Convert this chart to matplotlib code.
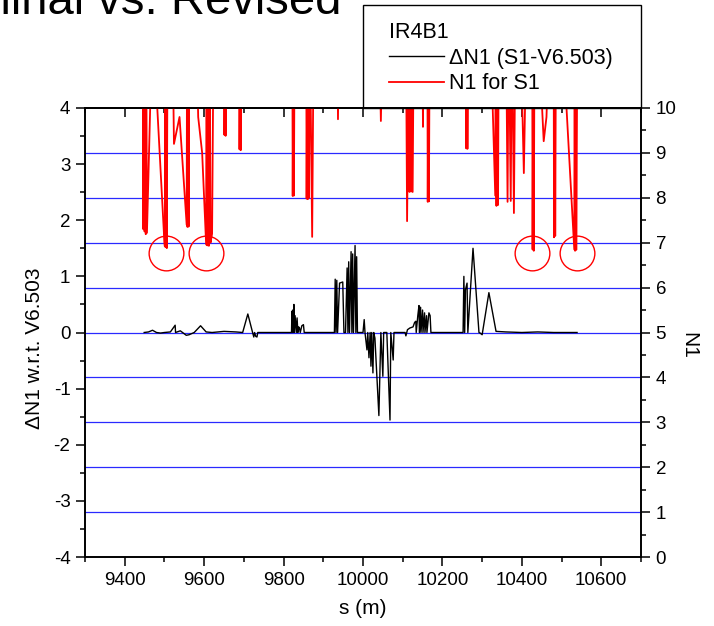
import matplotlib.pyplot as plt
from matplotlib.ticker import MultipleLocator, NullFormatter
from matplotlib.patches import Rectangle

plt.rcParams['font.family'] = ['Liberation Sans', 'DejaVu Sans']
plt.rcParams['axes.unicode_minus'] = False

# dN1 (S1 - V6.503), left axis
dn_s = [9449, 9460, 9470, 9480, 9490, 9500, 9515, 9527, 9528, 9540, 9555, 9562,
        9575, 9591, 9605, 9620, 9650, 9680, 9697, 9710, 9722, 9725, 9727, 9730,
        9733, 9735, 9820, 9821, 9822, 9823, 9824, 9826, 9827, 9829, 9832, 9834,
        9836, 9838, 9840, 9842, 9846, 9850, 9852, 9928, 9930, 9932, 9934, 9936,
        9941, 9949, 9952, 9956, 9960, 9962, 9964, 9966, 9970, 9972, 9974, 9976,
        9980, 9982, 9984, 9986, 10000, 10003, 10005, 10010, 10012, 10015, 10018,
        10020, 10022, 10025, 10027, 10030, 10040, 10045, 10050, 10052, 10060,
        10068, 10070, 10076, 10078, 10106, 10108, 10112, 10118, 10126, 10130,
        10133, 10134, 10138, 10141, 10142, 10145, 10146, 10150, 10151, 10155,
        10156, 10160, 10161, 10166, 10169, 10171, 10252, 10254, 10256, 10258,
        10262, 10264, 10277, 10292, 10295, 10300, 10317, 10335, 10360, 10400,
        10440, 10480, 10539]
dn_v = [0.0, 0.01, 0.04, 0.0, -0.01, 0.0, 0.01, 0.13, 0.0, 0.03, -0.05, -0.04,
        0.0, 0.12, 0.01, 0.0, 0.02, 0.01, 0.0, 0.33, 0.0, -0.08, 0.0, -0.07,
        -0.08, 0.0, 0.0, 0.38, 0.0, 0.4, 0.0, 0.5, 0.0, 0.3, 0.0, 0.26,
        0.0, 0.1, 0.08, 0.0, 0.12, 0.14, 0.0, 0.0, 0.95, 0.0, 0.93, 0.0,
        0.88, 0.9, 0.0, 0.0, 1.15, 0.0, 1.26, 0.0, 1.44, 0.0, 1.4, 0.0,
        1.55, 0.0, 1.35, 0.0, 0.0, 0.23, 0.0, -0.31, 0.0, -0.45, 0.0,
        -0.6, 0.0, -0.72, 0.0, -0.1, -1.48, 0.0, -0.78, 0.0, 0.0,
        -1.56, 0.0, -0.49, 0.0, 0.0, -0.06, 0.05, 0.08, 0.1, 0.18,
        0.2, 0.0, 0.3, 0.48, 0.0, 0.45, 0.0, 0.4, 0.0, 0.35,
        0.0, 0.3, 0.0, 0.35, 0.3, 0.0, 0.0, 1.0, 0.0, 0.76,
        0.88, 0.0, 1.5, 0.0, -0.01, -0.04, 0.71, 0.02, 0.01, 0.0,
        0.01, 0.0, 0.0]

# N1 for S1, right axis (values above 10 run off the top)
n1_s = [9446, 9447, 9448, 9450, 9451, 9453, 9454, 9456, 9470, 9500, 9501, 9502, 9503,
        9505, 9506, 9508, 9520, 9524, 9538, 9556, 9557, 9558, 9560, 9561, 9563,
        9580, 9585, 9595, 9605, 9606, 9608, 9610, 9612, 9614, 9616, 9620, 9624,
        9650, 9651, 9653, 9654, 9656, 9688, 9689, 9691, 9692, 9694,
        9822, 9823, 9825, 9826, 9828, 9857, 9858, 9860, 9861, 9863, 9864, 9866,
        9872, 9876, 9935, 9937, 9940, 10040, 10045, 10050, 10108, 10111, 10116,
        10117, 10119, 10121, 10123, 10125, 10128, 10149, 10151, 10153, 10162,
        10163, 10165, 10166, 10168, 10259, 10260, 10262, 10263, 10265,
        10320, 10333, 10334, 10336, 10338, 10340, 10342, 10360, 10364, 10367,
        10372, 10375, 10380, 10384, 10396, 10405, 10412, 10426, 10427, 10429,
        10430, 10432, 10440, 10455, 10462, 10470, 10480, 10481, 10483, 10484,
        10486, 10500, 10532, 10533, 10534, 10536, 10537, 10540]
n1_v = [12, 7.3, 12, 7.25, 12, 7.19, 12, 7.22, 12, 7.0, 6.92, 12, 6.9,
        12, 6.88, 12, 12, 9.2, 9.8, 7.4, 12, 7.35, 12, 7.36, 12,
        12, 9.8, 9.0, 6.96, 12, 6.94, 12, 6.93, 12, 7.0, 7.2, 12,
        12, 9.4, 12, 9.38, 12, 12, 9.08, 12, 9.06, 12,
        12, 8.04, 12, 8.05, 12, 12, 7.98, 12, 7.97, 12, 8.0, 12,
        7.13, 12, 12, 9.75, 12, 12, 9.71, 12, 12, 7.48, 12,
        8.13, 12, 8.14, 12, 8.13, 12, 12, 9.58, 12, 12,
        7.91, 12, 7.92, 12, 12, 9.1, 12, 9.09, 12,
        12, 8.05, 12, 7.82, 12, 7.84, 12, 12, 7.91, 12,
        7.93, 12, 7.66, 12, 12, 8.55, 12, 12, 6.85, 12,
        6.82, 12, 12, 9.26, 9.8, 12, 12, 7.12, 12, 7.15,
        12, 12, 6.85, 12, 6.82, 12, 6.84, 12]

# worst spots marked with circles
ring_s = [9504, 9605, 10426, 10540]
ring_n = [6.77, 6.77, 6.77, 6.77]

grid_n = [1, 2, 3, 4, 5, 6, 7, 8, 9]

fig = plt.figure(figsize=(7.14, 6.26), dpi=100)
ax = fig.add_axes([85 / 714, 1 - 557 / 626, 556 / 714, 449 / 626])
ax2 = ax.twinx()

for n in grid_n:
    ax.axhline((n - 5) / 1.25, color='#2a2aff', lw=0.9, zorder=1)

l1, = ax.plot(dn_s, dn_v, color='black', lw=1.0, zorder=3)
l2, = ax2.plot(n1_s, n1_v, color='red', lw=1.3)
ax2.plot(ring_s, ring_n, 'o', ms=25, mfc='none', mec='red', mew=1.0)

ax.set_xlim(9300, 10700)
ax.set_ylim(-4, 4)
ax2.set_ylim(0, 10)

ax.xaxis.set_major_locator(MultipleLocator(200))
ax.xaxis.set_minor_locator(MultipleLocator(100))
ax.yaxis.set_major_locator(MultipleLocator(1))
ax.yaxis.set_minor_locator(MultipleLocator(0.5))
ax2.yaxis.set_major_locator(MultipleLocator(1))
ax2.yaxis.set_minor_locator(MultipleLocator(0.5))

ax.tick_params(which='major', direction='out', length=6.5, width=1.1, labelsize=13.5, pad=4)
ax.tick_params(which='minor', direction='out', length=3.5, width=1.1)
ax2.tick_params(which='major', direction='out', length=6.5, width=1.1, labelsize=13.5, pad=4)
ax2.tick_params(which='minor', direction='out', length=3.5, width=1.1)

top = ax.secondary_xaxis('top')
top.xaxis.set_major_locator(MultipleLocator(200))
top.xaxis.set_minor_locator(MultipleLocator(100))
top.xaxis.set_major_formatter(NullFormatter())
top.tick_params(which='major', direction='in', length=6.5, width=1.1)
top.tick_params(which='minor', direction='in', length=3.5, width=1.1)

for a in (ax, ax2, top):
    for sp in a.spines.values():
        sp.set_linewidth(1.2)

ax.set_xlabel('s (m)', fontsize=15)
ax.xaxis.set_label_coords(0.5, -(599 - 557) / 449)
ax.set_ylabel('ΔN1 w.r.t. V6.503', fontsize=15)
ax.yaxis.set_label_coords(-(85 - 44) / 556, (557 - 348) / 449)
ax2.set_ylabel('N1', fontsize=15, rotation=270, va='center')
ax2.yaxis.set_label_coords(1 + (689 - 641) / 556, (557 - 345) / 449)

fig.text(341 / 714, 1 - 14 / 626, 'Nominal vs. Revised', fontsize=34,
         ha='right', va='baseline')

fig.patches.append(Rectangle((363 / 714, 1 - 108 / 626), 278 / 714, 103 / 626,
                             transform=fig.transFigure, fill=False,
                             edgecolor='black', lw=1.0))
leg = fig.legend([l1, l2], ['ΔN1 (S1-V6.503)', 'N1 for S1'], title='IR4B1',
                 loc='upper left', bbox_to_anchor=(389 / 714, 1 - 22 / 626),
                 frameon=False, fontsize=15.5, title_fontsize=15.5, alignment='left',
                 handlelength=2.55, handletextpad=0.23, labelspacing=0.22,
                 borderpad=0, borderaxespad=0)

fig.savefig('out.png', dpi=100)
